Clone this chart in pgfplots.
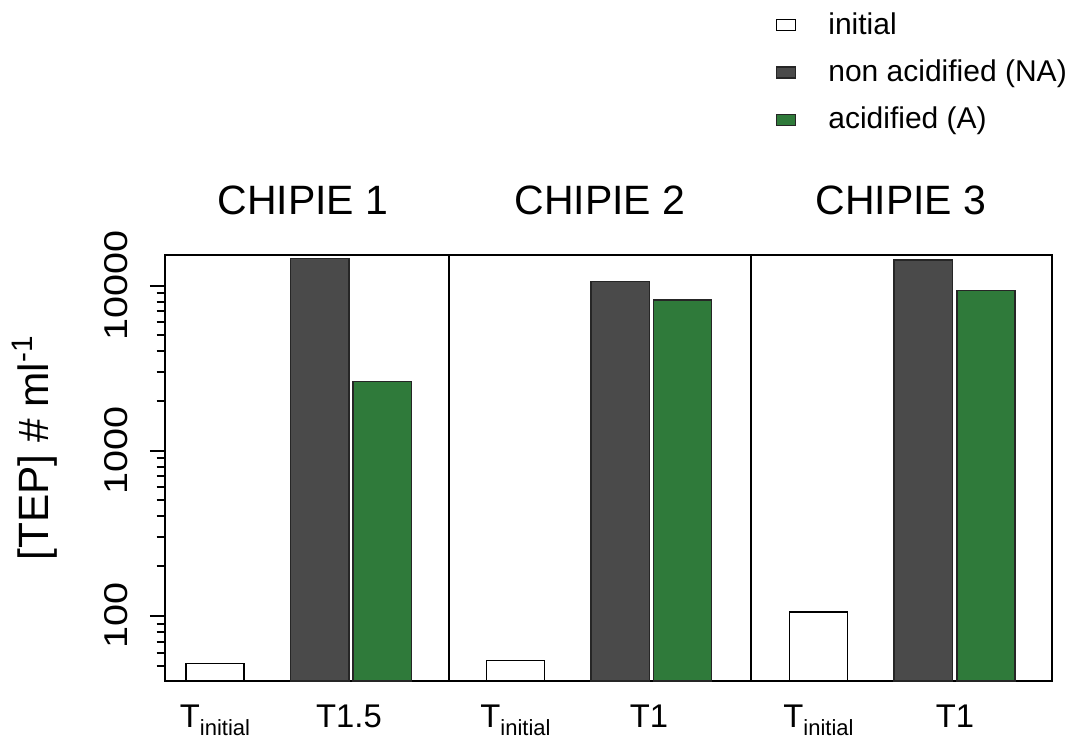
\documentclass[border=0pt]{standalone}
\usepackage{pgfplots}
\pgfplotsset{compat=1.18}
\usepackage{fontspec}
\setmainfont{Liberation Sans}
\definecolor{nagray}{RGB}{74,74,74}
\definecolor{agreen}{RGB}{47,122,58}
\newcommand\Tini{T\raisebox{-4.2pt}{\fontsize{11}{13}\selectfont initial}}
\newcommand\yl[1]{\scalebox{1.2}[1]{#1}}
\begin{document}
\begin{tikzpicture}
\begin{axis}[
  scale only axis, width=443.5pt, height=213pt,
  at={(0,0)}, anchor=south west,
  xmin=165, xmax=1052,
  ymode=log, ymin=40.4, ymax=15300, log origin=infty,
  ybar, bar width=58.3, bar shift=0pt,
  clip=false,
  axis line style={line width=1pt},
  tick align=outside, ytick pos=left, xtick pos=bottom,
  ytick={100,1000,10000}, yticklabels={{\yl{100}},{\yl{1000}},{\yl{10000}}},
  minor ytick={50,60,70,80,90,200,300,400,500,600,700,800,900,2000,3000,4000,5000,6000,7000,8000,9000},
  major tick length=7.5pt, minor tick length=4.2pt,
  every tick/.style={black, line width=1pt},
  xtick={215,349,515.5,649,818.5,955},
  xticklabels={{\Tini},{T1.5},{\Tini},{T1},{\Tini},{T1}},
  xtick style={draw=none},
  xticklabel style={anchor=base, inner sep=0pt, yshift=-15.65pt, font=\fontsize{16.4}{20}\selectfont},
  yticklabel style={xshift=-10.7pt, rotate=90, anchor=south, inner sep=0pt, font=\fontsize{16.5}{20}\selectfont},
  ylabel={[TEP] \# ml\textsuperscript{-1}},
  every axis y label/.style={at={(rel axis cs:-0.1319,0.547)}, rotate=90, anchor=base, font=\fontsize{21.2}{25}\selectfont},
  legend entries={initial, non acidified (NA), acidified (A)},
  legend image code/.code={\draw[#1, line width=0.7pt] (0pt,-2pt) rectangle (9.5pt,3.5pt);},
  legend cell align=left,
  legend style={at={(rel axis cs:0.6888,1.5704)}, anchor=north west, draw=none, fill=none,
    inner sep=0pt, outer sep=0pt, row sep=9.2pt,
    font=\fontsize{15}{18}\selectfont,
    nodes={inner sep=0pt, text height=11pt, text depth=3.5pt},
    /tikz/every odd column/.append style={column sep=16pt}},
]
\addplot[fill=white, draw=black, line width=0.75pt] coordinates {(215,51.5) (515.5,53.8) (818.5,106)};
\addplot[fill=nagray, draw=black!85, line width=0.75pt] coordinates {(319.8,14600) (620.2,10540) (923.3,14260)};
\addplot[fill=agreen, draw=black!85, line width=0.75pt] coordinates {(382.3,2620) (682.5,8170) (986,9300)};
\draw[line width=1pt] (rel axis cs:0.3198,0) -- (rel axis cs:0.3198,1);
\draw[line width=1pt] (rel axis cs:0.6603,0) -- (rel axis cs:0.6603,1);
\node[anchor=base, font=\fontsize{20.5}{24}\selectfont] at (rel axis cs:0.1556,1.0962) {CHIPIE 1};
\node[anchor=base, font=\fontsize{20.5}{24}\selectfont] at (rel axis cs:0.4904,1.0962) {CHIPIE 2};
\node[anchor=base, font=\fontsize{20.5}{24}\selectfont] at (rel axis cs:0.8298,1.0962) {CHIPIE 3};
\end{axis}
\pgfresetboundingbox
\useasboundingbox (-82.5pt,-28.5pt) rectangle (451pt,340.5pt);
\end{tikzpicture}
\end{document}
